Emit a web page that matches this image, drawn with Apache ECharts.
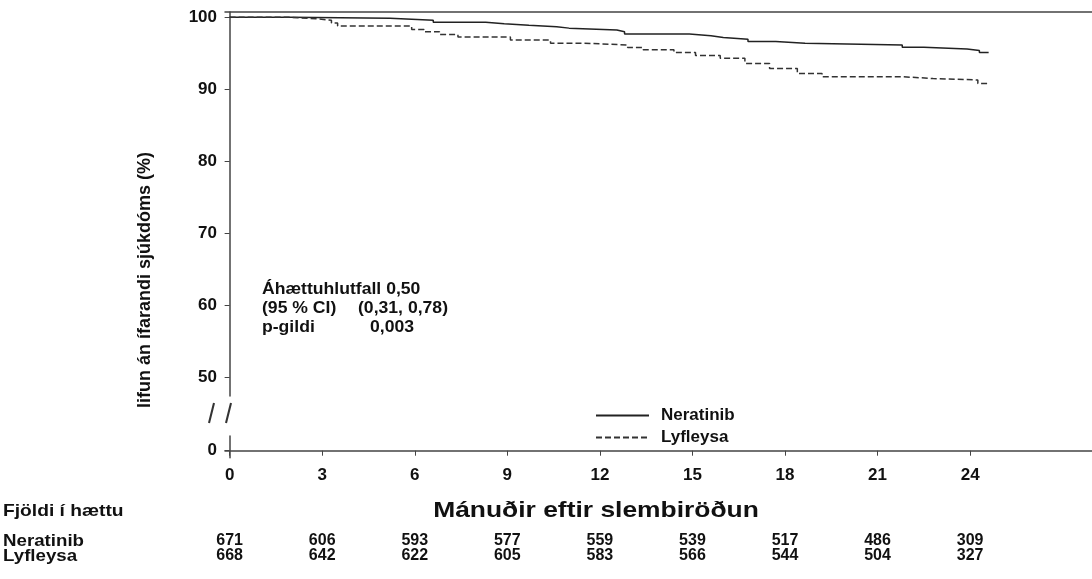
<!DOCTYPE html>
<html>
<head>
<meta charset="utf-8">
<script src="https://cdn.jsdelivr.net/npm/echarts@6/dist/echarts.min.js"></script>
<style>
  html, body { margin: 0; padding: 0; background: #fff; }
  #chart { width: 1092px; height: 579px; }
</style>
</head>
<body>
<div id="chart"></div>
<script>
// Kaplan-Meier curves (months, % event-free)
const neratinibTime = [0, 1.96, 5.2, 6.6, 8.3, 8.9, 9.7, 10.6, 11.0, 12.55, 12.8, 14.9, 15.6, 16.0, 16.8, 17.7, 18.65, 21.8, 22.5, 23.9, 24.3, 24.6];
const neratinibSurv = [100, 99.86, 99.6, 99.3, 99.1, 98.9, 98.7, 98.5, 98.25, 98.0, 97.7, 97.45, 97.2, 96.95, 96.65, 96.4, 96.15, 95.85, 95.6, 95.4, 95.1, 95.1];
const lyfleysaTime = [0, 2.0, 2.8, 3.3, 3.5, 5.9, 6.3, 6.8, 7.4, 9.1, 10.4, 11.5, 12.9, 13.4, 14.4, 15.1, 15.9, 16.7, 17.5, 18.4, 19.2, 21.8, 22.8, 24.25, 24.6];
const lyfleysaSurv = [100, 99.8, 99.6, 99.2, 98.8, 98.3, 98.0, 97.6, 97.25, 96.85, 96.4, 96.15, 95.8, 95.5, 95.1, 94.7, 94.3, 93.6, 92.9, 92.2, 91.75, 91.5, 91.3, 90.8, 90.8];

// number at risk table
const atRiskTimes = [0, 3, 6, 9, 12, 15, 18, 21, 24];
const neratinibAtRisk = [671, 606, 593, 577, 559, 539, 517, 486, 309];
const lyfleysaAtRisk = [668, 642, 622, 605, 583, 566, 544, 504, 327];

const yTicksTop = [50, 60, 70, 80, 90, 100];
const yTicksBottom = [0];

const FONT = "'Liberation Sans', Arial, sans-serif";
const AXIS_COLOR = '#444';
const TEXT_COLOR = '#111';

const pairs = (t, s) => t.map((x, i) => [x, s[i]]);

const chart = echarts.init(document.getElementById('chart'));

const xMin = -0.15, xMax = 27.95;

const riskAxis = (counts, offset) => ({
  gridIndex: 1,
  type: 'value',
  min: xMin,
  max: xMax,
  position: 'bottom',
  offset: offset,
  axisLine: { show: false },
  axisTick: { show: false },
  splitLine: { show: false },
  axisLabel: {
    customValues: atRiskTimes,
    margin: 0,
    color: TEXT_COLOR,
    fontFamily: FONT,
    fontWeight: 'bold',
    fontSize: 16,
    formatter: v => String(counts[atRiskTimes.indexOf(v)])
  }
});

// free text, slightly stretched sideways like the source picture
const txt = (text, x, y, size, align, sx) => ({
  type: 'text',
  x: x,
  y: y,
  scaleX: sx || 1.1,
  style: {
    text: text,
    fill: TEXT_COLOR,
    font: 'bold ' + size + 'px ' + FONT,
    textAlign: align || 'left',
    align: align || 'left',
    textVerticalAlign: 'middle',
    verticalAlign: 'middle'
  }
});

const option = {
  animation: false,
  backgroundColor: '#fff',
  grid: [
    { left: 225, right: 0, top: 12, height: 384 },
    { left: 225, right: 0, top: 436, height: 21.7 }
  ],
  xAxis: [
    {
      // top border of the plot
      gridIndex: 0,
      type: 'value',
      min: xMin,
      max: xMax,
      position: 'top',
      axisLine: { show: true, lineStyle: { color: AXIS_COLOR, width: 1.5 } },
      axisTick: { show: false },
      axisLabel: { show: false },
      splitLine: { show: false }
    },
    {
      gridIndex: 1,
      type: 'value',
      min: xMin,
      max: xMax,
      position: 'bottom',
      axisLine: { show: true, lineStyle: { color: AXIS_COLOR, width: 1.5 } },
      axisTick: { show: true, length: 5, customValues: atRiskTimes, lineStyle: { color: AXIS_COLOR } },
      splitLine: { show: false },
      axisLabel: {
        customValues: atRiskTimes,
        margin: 9,
        color: TEXT_COLOR,
        fontFamily: FONT,
        fontWeight: 'bold',
        fontSize: 17
      }
    },
    riskAxis(neratinibAtRisk, 75),
    riskAxis(lyfleysaAtRisk, 90)
  ],
  yAxis: [
    {
      gridIndex: 0,
      type: 'value',
      min: 47.4,
      max: 100.74,
      axisLine: { show: true, lineStyle: { color: AXIS_COLOR, width: 1.5 } },
      axisTick: { show: true, length: 5, customValues: yTicksTop, lineStyle: { color: AXIS_COLOR } },
      splitLine: { show: false },
      axisLabel: {
        customValues: yTicksTop,
        margin: 8,
        color: TEXT_COLOR,
        fontFamily: FONT,
        fontWeight: 'bold',
        fontSize: 17
      }
    },
    {
      gridIndex: 1,
      type: 'value',
      min: -0.97,
      max: 2.04,
      axisLine: { show: true, lineStyle: { color: AXIS_COLOR, width: 1.5 } },
      axisTick: { show: true, length: 5, customValues: yTicksBottom, lineStyle: { color: AXIS_COLOR } },
      splitLine: { show: false },
      axisLabel: {
        customValues: yTicksBottom,
        margin: 8,
        color: TEXT_COLOR,
        fontFamily: FONT,
        fontWeight: 'bold',
        fontSize: 17
      }
    }
  ],
  legend: {
    orient: 'vertical',
    left: 590,
    top: 402,
    itemWidth: 53,
    itemHeight: 14,
    itemGap: 5,
    selectedMode: false,
    data: ['Neratinib', 'Lyfleysa'],
    itemStyle: { opacity: 0 },
    textStyle: {
      color: TEXT_COLOR,
      fontFamily: FONT,
      fontWeight: 'bold',
      fontSize: 17,
      lineHeight: 17,
      padding: [0, 0, 0, 7]
    }
  },
  series: [
    {
      name: 'Neratinib',
      type: 'line',
      step: 'end',
      xAxisIndex: 0,
      yAxisIndex: 0,
      symbol: 'none',
      color: '#222',
      lineStyle: { color: '#222', width: 1.5, type: 'solid' },
      data: pairs(neratinibTime, neratinibSurv)
    },
    {
      name: 'Lyfleysa',
      type: 'line',
      step: 'end',
      xAxisIndex: 0,
      yAxisIndex: 0,
      symbol: 'none',
      color: '#333',
      lineStyle: { color: '#333', width: 1.5, type: [6, 3] },
      data: pairs(lyfleysaTime, lyfleysaSurv)
    }
  ],
  graphic: [
    // y axis title
    Object.assign(txt('lifun án ífarandi sjúkdóms (%)', 145, 280, 18, 'center', 1), { rotation: Math.PI / 2 }),
    // x axis title
    txt('Mánuðir eftir slembiröðun', 596, 511, 22, 'center', 1.2),
    // at-risk table labels
    txt('Fjöldi í hættu', 3, 511, 17, 'left', 1.13),
    txt('Neratinib', 3, 541, 17),
    txt('Lyfleysa', 3, 556, 17),
    // hazard ratio box
    txt('Áhættuhlutfall 0,50', 262, 290, 16),
    txt('(95 % CI)', 262, 309, 16),
    txt('(0,31, 0,78)', 358, 309, 16),
    txt('p-gildi', 262, 328, 16),
    txt('0,003', 370, 328, 16),
    // axis break marks
    { type: 'line', shape: { x1: 209, y1: 423, x2: 214, y2: 403 }, style: { stroke: '#333', lineWidth: 2 } },
    { type: 'line', shape: { x1: 226, y1: 423, x2: 231, y2: 403 }, style: { stroke: '#333', lineWidth: 2 } }
  ]
};

chart.setOption(option);
</script>
</body>
</html>
